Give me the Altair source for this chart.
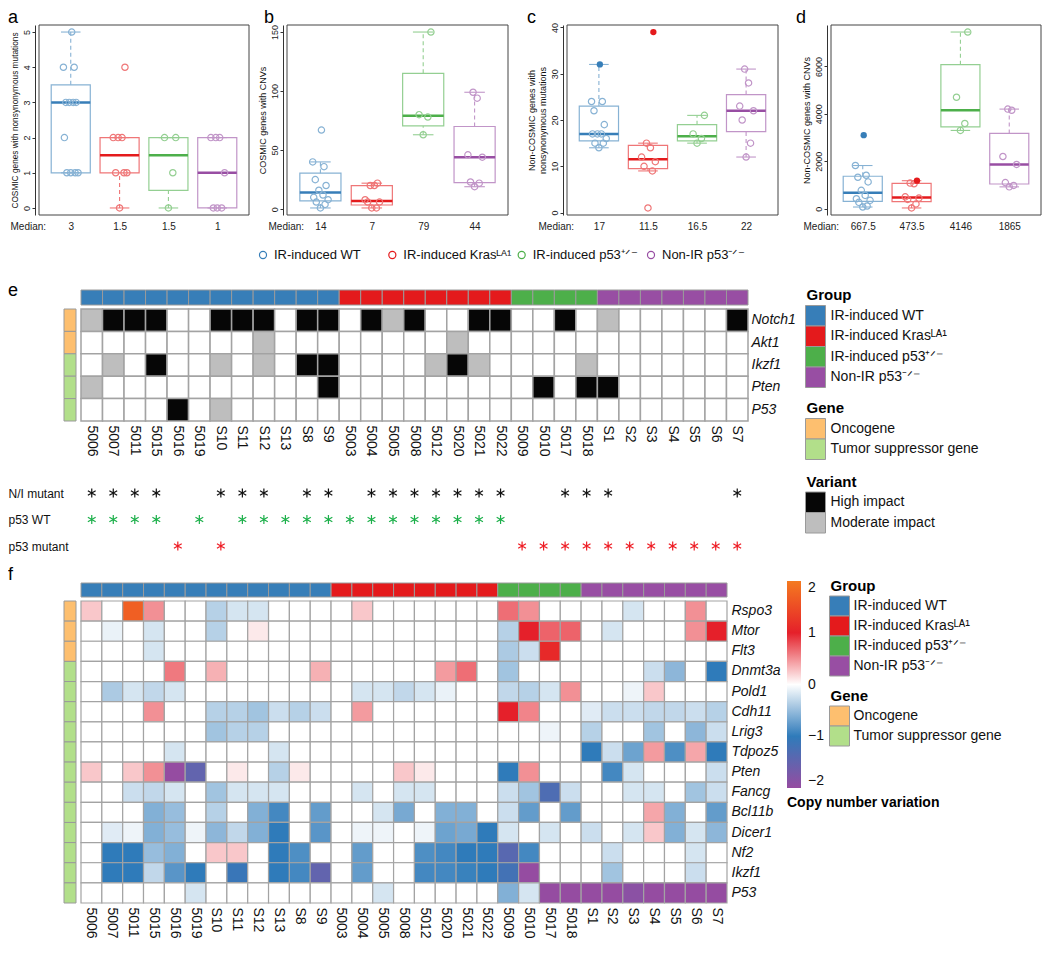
import math
import altair as alt
import pandas as pd

FONT = "Liberation Sans"
W, H = 1034, 940


def c(v):
    """screen pixel -> chart pixel (page has an 8px margin)"""
    return v - 8


# ---------------- groups & samples ----------------
GROUP_LABELS = ["IR-induced WT", "IR-induced Krasᴸᴬ¹", "IR-induced p53⁺ᐟ⁻", "Non-IR p53⁻ᐟ⁻"]
GROUP_COLORS = ["#377EB8", "#E41A1C", "#4DAF4A", "#984EA3"]
GROUP_LIGHT = ["#87B2D4", "#EF7677", "#94CF92", "#C195C8"]

SAMPLES_WT = ["5006", "5007", "5011", "5015", "5016", "5019", "S10", "S11", "S12", "S13", "S8", "S9"]
SAMPLES_KRAS = ["5003", "5004", "5005", "5008", "5012", "5020", "5021", "5022"]
SAMPLES_P53 = ["5009", "5010", "5017", "5018"]
SAMPLES_NONIR = ["S1", "S2", "S3", "S4", "S5", "S6", "S7"]
SAMPLE_LISTS = [SAMPLES_WT, SAMPLES_KRAS, SAMPLES_P53, SAMPLES_NONIR]
SAMPLES = SAMPLES_WT + SAMPLES_KRAS + SAMPLES_P53 + SAMPLES_NONIR
SAMPLE_GROUP = {s: GROUP_LABELS[i] for i, lst in enumerate(SAMPLE_LISTS) for s in lst}

# ---------------- panels a-d (values per group) ----------------
A_WT = [1, 1, 1, 1, 2, 3, 3, 3, 3, 4, 4, 5]
A_KRAS = [0, 1, 1, 1, 2, 2, 2, 4]
A_P53 = [0, 1, 2, 2]
A_NONIR = [0, 0, 0, 1, 2, 2, 2]

B_WT = [1, 4, 6, 8, 10, 12, 16, 20, 25, 36, 40, 67]
B_KRAS = [1, 1, 6, 6, 8, 20, 20, 22]
B_P53 = [63, 78, 80, 150]
B_NONIR = [19, 22, 23, 44, 46, 94, 99]

C_WT = [14, 15, 15, 16, 17, 17, 17, 19, 22, 24, 24, 32]
C_KRAS = [1, 9, 10, 11, 12, 14, 15, 39]
C_P53 = [15, 16, 17, 21]
C_NONIR = [12, 15, 20, 22, 23, 28, 31]

D_WT = [70, 113, 268, 352, 420, 560, 775, 1128, 1325, 1410, 1820, 3100]
D_KRAS = [30, 200, 390, 447, 500, 1050, 1080, 1180]
D_P53 = [3300, 3592, 4700, 7450]
D_NONIR = [920, 980, 1100, 1865, 2200, 4150, 4200]

# highlighted (filled) points
C_FILLED = [[32], [39], [], []]
D_FILLED = [[3100], [1180], [], []]

# small horizontal jitter pattern (data units)
JITTER = [0.0, 0.09, -0.08, 0.15, -0.13, 0.05, -0.03, 0.11, -0.1, 0.07, -0.15, 0.02]

# ---------------- panel e ----------------
GENES_E = ["Notch1", "Akt1", "Ikzf1", "Pten", "P53"]
GENE_TYPES_E = ["Oncogene", "Oncogene", "Tumor suppressor gene", "Tumor suppressor gene", "Tumor suppressor gene"]
MUTATIONS_E = {  # one char per sample: H high, M moderate, . none
    "Notch1": "MHHH..HHH.HH.HMH..HH..H.M.....H",
    "Akt1":   "........M........M.............",
    "Ikzf1":  ".M.H..M.M.HH....MHM....M.......",
    "Pten":   "M..........H.........H.HH......",
    "P53":    "....H.M........................",
}
VARIANT_CODE = {"H": "High impact", "M": "Moderate impact", ".": "None"}
VARIANTS = ["High impact", "Moderate impact", "None"]
VARIANT_COLORS = ["#060606", "#BEBEBE", "#FFFFFF"]

NI_MUTANT = ["5006", "5007", "5011", "5015", "S10", "S11", "S12", "S8", "S9", "5004", "5005",
             "5008", "5012", "5020", "5021", "5022", "5017", "5018", "S1", "S7"]
P53_WT = ["5006", "5007", "5011", "5015", "5019", "S11", "S12", "S13", "S8", "S9", "5003",
          "5004", "5005", "5008", "5012", "5020", "5021", "5022"]
P53_MUT = ["5016", "S10", "5009", "5010", "5017", "5018", "S1", "S2", "S3", "S4", "S5", "S6", "S7"]
STAR_ROWS = ["N/I mutant", "p53 WT", "p53 mutant"]
STAR_COLORS = ["#111111", "#1DB04B", "#EE1C24"]

GENE_TYPE_LABELS = ["Oncogene", "Tumor suppressor gene"]
GENE_TYPE_COLORS = ["#FDBF6F", "#B2DF8A"]

# ---------------- panel f (copy number variation) ----------------
GENES_F = ["Rspo3", "Mtor", "Flt3", "Dnmt3a", "Pold1", "Cdh11", "Lrig3", "Tdpoz5", "Pten",
           "Fancg", "Bcl11b", "Dicer1", "Nf2", "Ikzf1", "P53"]
GENE_TYPES_F = ["Oncogene"] * 3 + ["Tumor suppressor gene"] * 12
Z8, Z4, Z7 = [0] * 8, [0] * 4, [0] * 7
CNV = {  # WT(12) + Kras(8) + p53+/-(4) + Non-IR(7)
    "Rspo3": [.25, 0, 1.7, .5, 0, 0, -.35, -.2, -.2, 0, 0, 0] + [0, .25, 0, 0, 0, 0, 0, 0] + [.65, .5, 0, 0] + [0, 0, -.2, 0, 0, .5, 0],
    "Mtor": [0, -.1, 0, -.2, 0, 0, -.35, 0, .1, 0, 0, 0] + Z8 + [-.35, 1.0, .7, .7] + [0, -.2, 0, 0, 0, .5, 1.0],
    "Flt3": [0, 0, 0, -.2, 0, 0, 0, 0, 0, 0, 0, 0] + Z8 + [-.4, -.25, 1.1, 0] + Z7,
    "Dnmt3a": [0, 0, 0, 0, .6, 0, .35, 0, 0, 0, 0, .35] + [0, 0, 0, 0, 0, .45, .65, 0] + [-.45, 0, 0, 0] + [0, 0, 0, -.25, -.55, 0, -1.0],
    "Pold1": [0, -.4, -.2, -.3, -.2, 0, 0, 0, 0, 0, 0, 0] + [0, -.2, -.2, -.3, -.2, -.1, 0, 0] + [-.3, -.35, -.2, .5] + [0, 0, -.08, .25, 0, 0, 0],
    "Cdh11": [0, 0, 0, .5, 0, 0, -.35, -.35, -.45, -.25, -.35, -.25] + [0, .45, 0, 0, 0, 0, 0, 0] + [1.0, .55, 0, 0] + [-.15, -.25, -.25, -.3, -.3, -.25, -.35],
    "Lrig3": [0, 0, 0, 0, 0, 0, -.45, -.35, -.35, 0, 0, 0] + Z8 + [0, 0, -.08, 0] + [-.35, 0, 0, -.45, 0, -.55, -.25],
    "Tdpoz5": [0, 0, 0, 0, -.2, 0, 0, 0, 0, -.2, 0, 0] + Z8 + Z4 + [-1.0, -.25, -.7, .45, -.85, .4, -1.0],
    "Pten": [.25, 0, .25, .5, -2.0, -1.5, 0, .1, 0, -.35, .1, 0] + [0, 0, 0, .25, .1, 0, 0, 0] + [-1.0, .5, 0, 0] + [0, -.9, -.2, 0, 0, 0, -.25],
    "Fancg": [0, 0, -.25, -.3, -.2, 0, -.45, -.2, -.2, -.2, 0, 0] + [0, -.2, 0, -.2, -.2, 0, 0, 0] + [-.25, -.45, -1.3, -.25] + [0, 0, -.2, -.2, 0, -.45, -.25],
    "Bcl11b": [0, 0, 0, -.6, -.5, 0, -.35, 0, -.6, -.9, 0, -.75] + [0, 0, -.2, -.65, 0, -.6, -.6, 0] + [-.25, -.75, 0, -.75] + [0, 0, 0, .4, -.6, 0, -.75],
    "Dicer1": [0, -.15, -.08, -.6, -.5, -.08, -.55, -.3, -.6, -1.0, 0, -.8] + [0, -.08, -.08, 0, -.08, -.7, -.65, -1.0] + [-.2, 0, -.2, 0] + [-.25, 0, -.2, .25, -.6, -.2, -.55],
    "Nf2": [0, -1.0, -1.0, -.5, -.6, 0, .25, .25, 0, -1.0, -.85, 0] + [0, -.75, 0, 0, -.85, -.9, -1.0, -1.0] + [-1.4, -.9, 0, 0] + [0, -.25, 0, 0, 0, -.2, 0],
    "Ikzf1": [0, -1.0, -1.0, -.3, -.8, -1.0, 0, -1.1, 0, -1.0, -.9, -1.5] + [0, -.75, 0, 0, -.9, -.9, -.95, -1.0] + [-1.2, -2.0, 0, 0] + [0, -.45, 0, 0, 0, -.25, 0],
    "P53": [0, 0, 0, 0, 0, -.2, 0, 0, 0, 0, 0, 0] + [0, 0, -.2, 0, 0, 0, 0, 0] + [-.6, -.2, -2.0, -2.0] + [-2.0, -2.0, -1.9, -2.0, -2.0, -2.0, -2.0],
}
CNV_DOMAIN = [-2, -1, 0, 1, 2]
CNV_COLORS = ["#954CA1", "#2F7BBA", "#FFFFFF", "#E5202A", "#F47A20"]

# ---------------- layout (screen pixels) ----------------
T, B = 25, 215
BOX_PANELS = [
    dict(letter="a", data=[A_WT, A_KRAS, A_P53, A_NONIR], filled=[[], [], [], []],
         ytitle="COSMIC genes with nonsynonymous mutations", title_size=8.3, ticks=[0, 1, 2, 3, 4, 5],
         L=39, R=249, letter_x=8, median_x=10),
    dict(letter="b", data=[B_WT, B_KRAS, B_P53, B_NONIR], filled=[[], [], [], []],
         ytitle="COSMIC genes with CNVs", title_size=9, ticks=[0, 50, 100, 150],
         L=287, R=508, letter_x=264, median_x=268),
    dict(letter="c", data=[C_WT, C_KRAS, C_P53, C_NONIR], filled=C_FILLED,
         ytitle=["Non-COSMIC genes with", "nonsynonymous mutations"], title_size=9, ticks=[0, 10, 20, 30, 40],
         L=567, R=778, letter_x=527, median_x=538),
    dict(letter="d", data=[D_WT, D_KRAS, D_P53, D_NONIR], filled=D_FILLED,
         ytitle="Non-COSMIC genes with CNVs", title_size=9, ticks=[0, 2000, 4000, 6000],
         L=831, R=1041, letter_x=796, median_x=803),
]


def fivenum(v):
    x = sorted(v)
    n = len(x)
    n4 = math.floor((n + 3) / 2) / 2
    d = [1, n4, (n + 1) / 2, n + 1 - n4, n]
    return [0.5 * (x[math.floor(k) - 1] + x[math.ceil(k) - 1]) for k in d]


def box_panel(p):
    vals = p["data"]
    allv = [v for g in vals for v in g]
    lo, hi = min(allv), max(allv)
    pad = 0.04 * (hi - lo)
    ydom = [lo - pad, hi + pad]
    xdom = [0.35, 4.65]
    xs = alt.Scale(domain=xdom, range=[c(p["L"]), c(p["R"])], nice=False, zero=False)
    ys = alt.Scale(domain=ydom, range=[c(B), c(T)], nice=False, zero=False)

    boxes, whisk, caps, pts_open, pts_fill, meds = [], [], [], [], [], []
    for i, g in enumerate(vals):
        pos = i + 1
        q = fivenum(g)
        iqr = q[3] - q[1]
        upper = max(v for v in g if v <= q[3] + 1.5 * iqr)
        lower = min(v for v in g if v >= q[1] - 1.5 * iqr)
        meds.append(q[2])
        boxes.append(dict(x0=pos - 0.4, x1=pos + 0.4, q1=q[1], q3=q[3], med=q[2],
                          light=GROUP_LIGHT[i], dark=GROUP_COLORS[i]))
        if upper > q[3]:
            whisk.append(dict(x=pos, y0=q[3], y1=upper, light=GROUP_LIGHT[i]))
        if lower < q[1]:
            whisk.append(dict(x=pos, y0=lower, y1=q[1], light=GROUP_LIGHT[i]))
        for yv in (upper, lower):
            caps.append(dict(x0=pos - 0.2, x1=pos + 0.2, y=yv, light=GROUP_LIGHT[i]))
        filled = list(p["filled"][i])
        for j, v in enumerate(sorted(g)):
            xv = pos + JITTER[j % len(JITTER)]
            if v in filled:
                filled.remove(v)
                pts_fill.append(dict(x=xv, y=v, col=GROUP_COLORS[i]))
            else:
                pts_open.append(dict(x=xv, y=v, col=GROUP_LIGHT[i]))

    expr = ""
    for k, m in enumerate(meds[:-1]):
        expr += f"datum.value == {k + 1} ? '{m:g}' : "
    expr += f"'{meds[-1]:g}'"

    xaxis = alt.Axis(orient="bottom", offset=c(B) - H, values=[1, 2, 3, 4], labelExpr=expr,
                     domain=False, ticks=False, tickSize=0, labelPadding=6, labelFontSize=10,
                     labelColor="#222222", labelOverlap=False, labelFlush=False,
                     title="Median:", titleX=c(p["median_x"]), titleY=6, titleAlign="left",
                     titleBaseline="top", titleFontSize=10, titleFontWeight="normal",
                     titleColor="#222222")
    yaxis = alt.Axis(orient="left", offset=4 - c(p["L"]), values=p["ticks"], format="d",
                     labelAngle=270, labelAlign="center", labelBaseline="bottom", labelPadding=1,
                     tickSize=3, tickColor="#333333", domainColor="#333333", labelFontSize=9,
                     labelColor="#222222", labelOverlap=False, title=p["ytitle"],
                     titleFontSize=p["title_size"], titleFontWeight="normal", titlePadding=3,
                     titleColor="#111111")

    def X(f):
        return alt.X(f, scale=xs, axis=xaxis)

    def Y(f):
        return alt.Y(f, scale=ys, axis=yaxis)

    frame = alt.Chart(pd.DataFrame([dict(x0=xdom[0], x1=xdom[1], y0=ydom[0], y1=ydom[1])])).mark_rect(
        fill="transparent", stroke="#444444", strokeWidth=1).encode(
        x=X("x0:Q"), x2="x1:Q", y=Y("y0:Q"), y2="y1:Q")
    box = alt.Chart(pd.DataFrame(boxes)).mark_rect(fill="transparent", strokeWidth=1.2).encode(
        x=X("x0:Q"), x2="x1:Q", y=Y("q1:Q"), y2="q3:Q",
        stroke=alt.Stroke("light:N", scale=None))
    wh = alt.Chart(pd.DataFrame(whisk, columns=["x", "y0", "y1", "light"])).mark_rule(
        strokeDash=[4, 3], strokeWidth=1.1).encode(
        x=X("x:Q"), y=Y("y0:Q"), y2="y1:Q", color=alt.Color("light:N", scale=None))
    cp = alt.Chart(pd.DataFrame(caps)).mark_rule(strokeWidth=1.1).encode(
        x=X("x0:Q"), x2="x1:Q", y=Y("y:Q"), color=alt.Color("light:N", scale=None))
    med = alt.Chart(pd.DataFrame(boxes)).mark_rule(strokeWidth=2.5).encode(
        x=X("x0:Q"), x2="x1:Q", y=Y("med:Q"), color=alt.Color("dark:N", scale=None))
    po = alt.Chart(pd.DataFrame(pts_open)).mark_point(
        shape="circle", filled=False, size=40, strokeWidth=1.2, opacity=1).encode(
        x=X("x:Q"), y=Y("y:Q"), color=alt.Color("col:N", scale=None))
    layers = [frame, box, wh, cp, med, po]
    if pts_fill:
        pf = alt.Chart(pd.DataFrame(pts_fill)).mark_point(
            shape="circle", filled=True, size=40, opacity=1).encode(
            x=X("x:Q"), y=Y("y:Q"), color=alt.Color("col:N", scale=None))
        layers.append(pf)
    return alt.layer(*layers)


def text_at(t, x, y, size=18, weight="normal", baseline="alphabetic"):
    return alt.Chart(pd.DataFrame({"t": [t]})).mark_text(
        fontSize=size, fontWeight=weight, align="left", baseline=baseline, color="#000000").encode(
        x=alt.value(c(x)), y=alt.value(c(y)), text="t:N")


def manual_legend(title, labels, colors, x0, title_y, top, step=20.5, gap=5):
    """swatch column + labels, drawn through small band scales"""
    df = pd.DataFrame({"label": labels, "col": colors, "k": ["sw"] * len(labels)})
    xs = alt.Scale(type="band", domain=["sw"], range=[c(x0), c(x0 + 20)], paddingInner=0, paddingOuter=0)
    ys = alt.Scale(type="band", domain=labels, range=[c(top), c(top + step * len(labels))],
                   paddingInner=0, paddingOuter=0)
    sw = alt.Chart(df).mark_rect(stroke="#9A9A9A", strokeWidth=1).encode(
        x=alt.X("k:N", scale=xs, axis=None), y=alt.Y("label:N", scale=ys, axis=None),
        fill=alt.Fill("col:N", scale=None))
    tx = alt.Chart(df).mark_text(align="left", baseline="middle", dx=10 + gap, fontSize=14,
                                 color="#111111").encode(
        x=alt.X("k:N", scale=xs, axis=None), y=alt.Y("label:N", scale=ys, axis=None), text="label:N")
    return [alt.layer(sw, tx), text_at(title, x0 + 1, title_y, size=15, weight="bold", baseline="middle")]


layers = []
for p in BOX_PANELS:
    layers.append(box_panel(p))
    layers.append(text_at(p["letter"], p["letter_x"], 23))

# ---------- shared legend row ----------
lg_df = pd.DataFrame({"label": GROUP_LABELS, "col": GROUP_COLORS})
lxs = alt.Scale(type="point", domain=GROUP_LABELS, range=[c(263), c(651)], padding=0)
layers.append(alt.layer(
    alt.Chart(lg_df).mark_point(shape="circle", filled=False, size=50, strokeWidth=1.2, opacity=1).encode(
        x=alt.X("label:N", scale=lxs, axis=None), y=alt.value(c(255)),
        color=alt.Color("col:N", scale=None)),
    alt.Chart(lg_df).mark_text(align="left", baseline="middle", dx=11, fontSize=13, color="#111111").encode(
        x=alt.X("label:N", scale=lxs, axis=None), y=alt.value(c(255)), text="label:N"),
))


def heat_section(genes, gene_types, x_left, x_right, bar_top, bar_bot, heat_top, heat_bot, gene_label_x):
    xs = alt.Scale(type="band", domain=SAMPLES, range=[c(x_left), c(x_right)],
                   paddingInner=0, paddingOuter=0)
    ys = alt.Scale(type="band", domain=genes, range=[c(heat_top), c(heat_bot)],
                   paddingInner=0, paddingOuter=0)
    gb_df = pd.DataFrame({"sample": SAMPLES, "group": [SAMPLE_GROUP[s] for s in SAMPLES],
                          "row": ["Group"] * len(SAMPLES)})
    gbar = alt.Chart(gb_df).mark_rect(stroke="#9A9A9A", strokeWidth=1).encode(
        x=alt.X("sample:N", scale=xs, axis=None),
        y=alt.Y("row:N", scale=alt.Scale(type="band", domain=["Group"], range=[c(bar_top), c(bar_bot)],
                                         paddingInner=0, paddingOuter=0), axis=None),
        fill=alt.Fill("group:N", scale=alt.Scale(domain=GROUP_LABELS, range=GROUP_COLORS), legend=None))
    st_df = pd.DataFrame({"col": ["type"] * len(genes), "gene": genes, "type": gene_types})
    strip = alt.Chart(st_df).mark_rect(stroke="#9A9A9A", strokeWidth=1).encode(
        x=alt.X("col:N", scale=alt.Scale(type="band", domain=["type"], range=[c(64), c(76)],
                                         paddingInner=0, paddingOuter=0), axis=None),
        y=alt.Y("gene:N", scale=ys, axis=None),
        fill=alt.Fill("type:N", scale=alt.Scale(domain=GENE_TYPE_LABELS, range=GENE_TYPE_COLORS),
                      legend=None))
    xaxis = alt.Axis(orient="bottom", offset=c(heat_bot) - H, labelAngle=90, labelAlign="left",
                     labelBaseline="middle", labelPadding=4, ticks=False, tickSize=0, domain=False,
                     labelFontSize=14, labelColor="#111111", labelOverlap=False, title=None)
    yaxis = alt.Axis(orient="right", offset=c(gene_label_x) - W, labelAlign="left", labelPadding=0,
                     ticks=False, tickSize=0, domain=False, labelFontSize=14,
                     labelFontStyle="italic", labelColor="#111111", labelOverlap=False, title=None)
    return xs, ys, gbar, strip, xaxis, yaxis


# ---------- panel e ----------
xs_e, ys_e, gbar_e, strip_e, xax_e, yax_e = heat_section(
    GENES_E, GENE_TYPES_E, 81, 748, 290, 305, 309, 421, 751)
he_df = pd.DataFrame([dict(gene=g, sample=s, variant=VARIANT_CODE[ch])
                      for g in GENES_E for s, ch in zip(SAMPLES, MUTATIONS_E[g])])
heat_e = alt.Chart(he_df).mark_rect(stroke="#A3A3A3", strokeWidth=1.5).encode(
    x=alt.X("sample:N", scale=xs_e, axis=xax_e),
    y=alt.Y("gene:N", scale=ys_e, axis=yax_e),
    fill=alt.Fill("variant:N", scale=alt.Scale(domain=VARIANTS, range=VARIANT_COLORS), legend=None))
star_df = pd.DataFrame(
    [dict(sample=s, row=STAR_ROWS[0], col=STAR_COLORS[0]) for s in NI_MUTANT] +
    [dict(sample=s, row=STAR_ROWS[1], col=STAR_COLORS[1]) for s in P53_WT] +
    [dict(sample=s, row=STAR_ROWS[2], col=STAR_COLORS[2]) for s in P53_MUT])
ASTERISK = "M0,-1L0,1M-0.87,-0.5L0.87,0.5M-0.87,0.5L0.87,-0.5"
stars = alt.Chart(star_df).mark_point(shape=ASTERISK, filled=False, size=80, strokeWidth=1.2, opacity=1).encode(
    x=alt.X("sample:N", scale=xs_e, axis=None),
    y=alt.Y("row:N", scale=alt.Scale(type="point", domain=STAR_ROWS, range=[c(493), c(546)], padding=0),
            axis=alt.Axis(orient="left", offset=0, labelAlign="left", labelPadding=0, ticks=False,
                          tickSize=0, domain=False, labelFontSize=12, labelColor="#111111",
                          labelOverlap=False, title=None)),
    color=alt.Color("col:N", scale=None))
layers += [gbar_e, strip_e, heat_e, stars, text_at("e", 8, 296)]
layers += manual_legend("Group", GROUP_LABELS, GROUP_COLORS, 805.5, 295, 305.5)
layers += manual_legend("Gene", GENE_TYPE_LABELS, GENE_TYPE_COLORS, 805.5, 408, 418.5)
layers += manual_legend("Variant", VARIANTS[:2], VARIANT_COLORS[:2], 805.5, 482, 492)

# ---------- panel f ----------
xs_f, ys_f, gbar_f, strip_f, xax_f, yax_f = heat_section(
    GENES_F, GENE_TYPES_F, 81, 727, 583, 597, 601, 903, 731)
hf_df = pd.DataFrame([dict(gene=g, sample=s, cnv=v) for g in GENES_F for s, v in zip(SAMPLES, CNV[g])])
heat_f = alt.Chart(hf_df).mark_rect(stroke="#A3A3A3", strokeWidth=1.2).encode(
    x=alt.X("sample:N", scale=xs_f, axis=xax_f),
    y=alt.Y("gene:N", scale=ys_f, axis=yax_f),
    fill=alt.Fill("cnv:Q", scale=alt.Scale(domain=CNV_DOMAIN, range=CNV_COLORS, interpolate="rgb"),
                  legend=alt.Legend(orient="none", legendX=c(787), legendY=c(581), direction="vertical",
                                    gradientLength=207, gradientThickness=14, gradientStrokeWidth=0,
                                    values=CNV_DOMAIN, labelFontSize=14, labelOffset=7,
                                    labelColor="#111111", title="Copy number variation",
                                    titleOrient="bottom", titleAnchor="start", titleFontSize=14,
                                    titleFontWeight="bold", titlePadding=8, titleLimit=300, padding=0)))
layers += [gbar_f, strip_f, heat_f, text_at("f", 8, 580)]
layers += manual_legend("Group", GROUP_LABELS, GROUP_COLORS, 829.5, 586, 596, step=20, gap=4)
layers += manual_legend("Gene", GENE_TYPE_LABELS, GENE_TYPE_COLORS, 829.5, 696, 706, step=20, gap=4)

chart = alt.layer(*layers).resolve_scale(
    x="independent", y="independent", fill="independent", color="independent", stroke="independent"
).resolve_axis(x="independent", y="independent").properties(
    width=W, height=H, padding=0, autosize=alt.AutoSizeParams(type="none")
).configure(font=FONT).configure_view(strokeWidth=0).configure_axis(grid=False)

chart.save("out.html", embed_options={"renderer": "svg", "actions": False})
